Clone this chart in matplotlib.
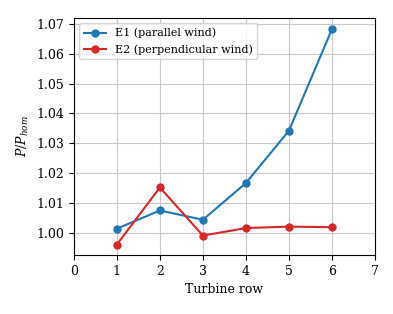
import matplotlib
matplotlib.use("Agg")
import matplotlib.pyplot as plt

rows = [1, 2, 3, 4, 5, 6]
e1 = [1.0014, 1.0075, 1.0044, 1.0167, 1.0342, 1.0682]
e2 = [0.9961, 1.0152, 0.9991, 1.0016, 1.0021, 1.0019]
label_e1 = "E1 (parallel wind)"
label_e2 = "E2 (perpendicular wind)"
yticks = [1.00, 1.01, 1.02, 1.03, 1.04, 1.05, 1.06, 1.07]

plt.rcParams['font.family'] = 'DejaVu Serif'
plt.rcParams['mathtext.fontset'] = 'dejavuserif'
plt.rcParams['font.size'] = 9

fig = plt.figure(figsize=(3.93, 3.14), dpi=100)
ax = fig.add_axes([0.188, 0.188, 0.766, 0.755])
ax.plot(rows, e1, '-o', color='#1f77b4', markersize=5, lw=1.5, label=label_e1)
ax.plot(rows, e2, '-o', color='#d62728', markersize=5, lw=1.5, label=label_e2)
ax.set_xlim(0, 7)
ax.set_ylim(0.9926, 1.072)
ax.set_xticks(range(0, 8))
ax.set_yticks(yticks)
ax.set_yticklabels([f"{v:.2f}" for v in yticks])
ax.grid(True, color='#c8c8c8', lw=0.8)
ax.set_axisbelow(True)
ax.set_xlabel("Turbine row")
ax.set_ylabel(r"$P/P_{hom}$")
ax.legend(loc='upper left', fontsize=8)
fig.savefig("out.png", dpi=100)
